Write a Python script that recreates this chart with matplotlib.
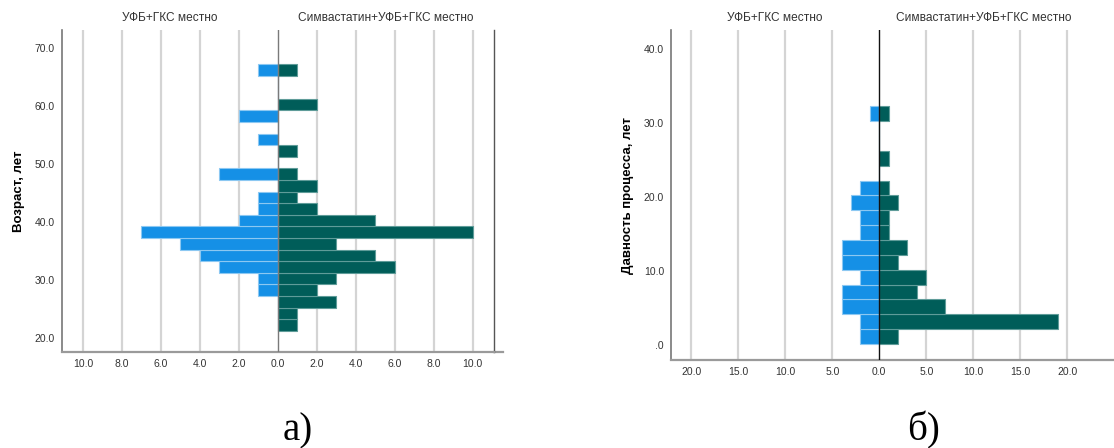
import matplotlib
matplotlib.use('Agg')
import matplotlib.pyplot as plt
import numpy as np

plt.rcParams['font.family'] = ['Liberation Sans', 'DejaVu Sans']

GROUP_LEFT = 'УФБ+ГКС местно'
GROUP_RIGHT = 'Симвастатин+УФБ+ГКС местно'

# age, years: bin centres (bin width 2) and counts per group
age_bins = [22.2, 24.2, 26.2, 28.2, 30.2, 32.2, 34.2, 36.2, 38.2, 40.2, 42.2, 44.2,
            46.2, 48.2, 50.2, 52.2, 54.2, 56.2, 58.2, 60.2, 62.2, 64.2, 66.2]
age_ufb = [0, 0, 0, 1, 1, 3, 4, 5, 7, 2, 1, 1, 0, 3, 0, 0, 1, 0, 2, 0, 0, 0, 1]
age_simva = [1, 1, 3, 2, 3, 6, 5, 3, 10, 5, 2, 1, 2, 1, 0, 1, 0, 0, 0, 2, 0, 0, 1]
age_xticks = [0, 2, 4, 6, 8, 10]
age_yticks = [20, 30, 40, 50, 60, 70]

# disease duration, years
dur_bins = [1.2, 3.2, 5.2, 7.2, 9.2, 11.2, 13.2, 15.2, 17.2, 19.2, 21.2, 23.2,
            25.2, 27.2, 29.2, 31.2]
dur_ufb = [2, 2, 4, 4, 2, 4, 4, 2, 2, 3, 2, 0, 0, 0, 0, 1]
dur_simva = [2, 19, 7, 4, 5, 2, 3, 1, 1, 2, 1, 0, 1, 0, 0, 1]
dur_xticks = [0, 5, 10, 15, 20]
dur_yticks = [0, 10, 20, 30, 40]

BLUE = '#1590e6'
TEAL = '#005d59'


def fmt(v):
    return '%.1f' % v


def pyramid(ax, bins, left, right, xticks, yticks, xlim, ylim, half, ylabel,
            zero_line, zero_label):
    bins = np.asarray(bins)
    ax.barh(bins, -np.asarray(left), height=2, color=BLUE, edgecolor='#8cc8f2',
            linewidth=0.8, zorder=3)
    ax.barh(bins, right, height=2, color=TEAL, edgecolor='#5f9c99',
            linewidth=0.8, zorder=3)
    for t in xticks:
        if t == 0:
            continue
        ax.axvline(t, color='#d4d4d4', lw=1.6, zorder=1)
        ax.axvline(-t, color='#d4d4d4', lw=1.6, zorder=1)
    ax.axvline(0, color=zero_line, lw=1.0, zorder=4)

    xt = sorted(set([-t for t in xticks] + list(xticks)))
    ax.set_xticks(xt)
    ax.set_xticklabels([fmt(abs(t)) for t in xt], fontsize=7.5, color='#333333')
    ax.set_yticks(yticks)
    ax.set_yticklabels([zero_label if y == 0 else fmt(y) for y in yticks],
                       fontsize=7.5, color='#333333')
    ax.tick_params(length=0, pad=5)
    ax.set_xlim(*xlim)
    ax.set_ylim(*ylim)
    ax.set_ylabel(ylabel, fontsize=9.5, fontweight='bold', labelpad=7)

    ax.spines['top'].set_visible(False)
    ax.spines['left'].set_color('#777777')
    ax.spines['left'].set_linewidth(1.2)
    ax.spines['bottom'].set_color('#9a9a9a')
    ax.spines['bottom'].set_linewidth(1.6)

    # group names centred over each half
    tr = ax.get_xaxis_transform()
    ax.text(-half / 2, 1.018, GROUP_LEFT, transform=tr, ha='center', va='bottom',
            fontsize=8.6, color='#333333')
    ax.text(half / 2, 1.018, GROUP_RIGHT, transform=tr, ha='center', va='bottom',
            fontsize=8.6, color='#333333')


fig = plt.figure(figsize=(11.14, 4.48), dpi=100)

ax1 = fig.add_axes([0.0554, 0.215, 0.388, 0.718])
pyramid(ax1, age_bins, age_ufb, age_simva, age_xticks, age_yticks,
        (-11.09, 11.09), (17.6, 73.05), 11.09, 'Возраст, лет', '#7a7a7a', '0.0')
ax1.spines['right'].set_color('#555555')
ax1.spines['right'].set_linewidth(1.0)
ax1.plot([1, 1.02], [0, 0], transform=ax1.transAxes, color='#9a9a9a', lw=1.6,
         clip_on=False)

ax2 = fig.add_axes([0.6023, 0.196, 0.3977, 0.737])
pyramid(ax2, dur_bins, dur_ufb, dur_simva, dur_xticks, dur_yticks,
        (-22.16, 24.97), (-2.0, 42.5), 22.3, 'Давность процесса, лет', '#111111', '.0')
ax2.spines['right'].set_visible(False)

fig.text(298 / 1114, 0.016, 'а)', fontsize=28, family='Liberation Serif',
         ha='center', va='baseline')
fig.text(924 / 1114, 0.016, 'б)', fontsize=28, family='Liberation Serif',
         ha='center', va='baseline')

fig.savefig('out.png', dpi=100)
